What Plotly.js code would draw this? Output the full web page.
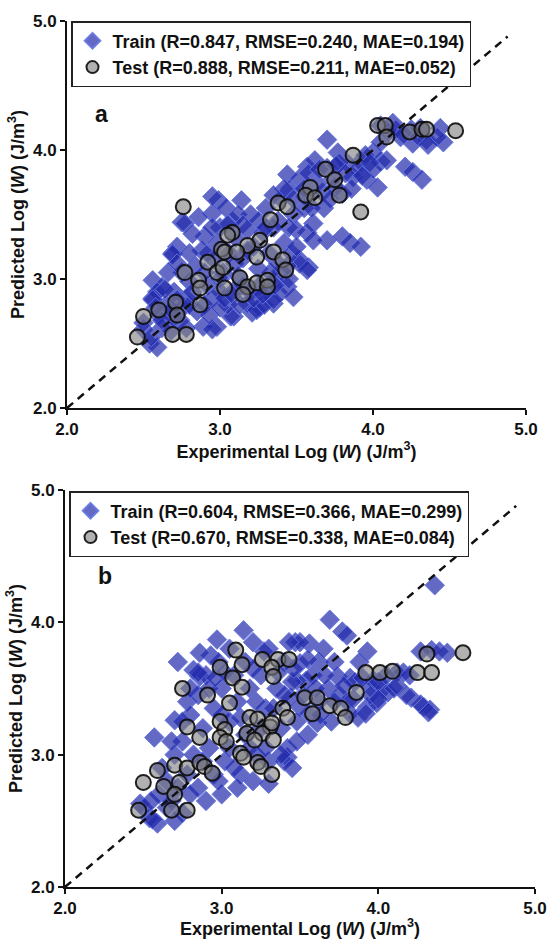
<!DOCTYPE html>
<html><head><meta charset="utf-8">
<script src="https://cdn.plot.ly/plotly-3.0.1.min.js"></script>
<style>html,body{margin:0;padding:0;background:#fff}#chart{width:549px;height:939px}</style>
</head><body><div id="chart"></div>
<script>
// ---------- data ----------
const tickVals = [2, 3, 4, 5];
const tickText = ['2.0', '3.0', '4.0', '5.0'];
const diagLine = [2, 4.88];
const panelLabels = ['a', 'b'];
const legendA = ['Train (R=0.847, RMSE=0.240, MAE=0.194)', 'Test (R=0.888, RMSE=0.211, MAE=0.052)'];
const legendB = ['Train (R=0.604, RMSE=0.366, MAE=0.299)', 'Test (R=0.670, RMSE=0.338, MAE=0.084)'];
const xTitle = 'Experimental Log (<i>W</i>) (J/m<sup>3</sup>)';
const yTitle = 'Predicted Log (<i>W</i>) (J/m<sup>3</sup>)';

// panel a, train [experimental, predicted]
const trainA = [[3.44,3.81],[2.99,3.61],[2.95,3.51],[3.14,3.61],[2.75,3.44],[2.72,3.25],[3.57,3.87],[3.56,3.64],[3.70,4.08],[4.05,4.19],[4.13,4.21],[4.18,4.10],[4.26,4.05],[4.35,4.08],[4.44,4.17],[4.46,4.06],[4.42,4.10],[4.31,4.17],[4.05,3.91],[4.00,3.98],[4.09,3.92],[4.21,3.87],[4.26,3.83],[4.32,3.77],[3.92,3.91],[3.83,3.90],[3.77,3.98],[3.87,3.79],[3.96,3.77],[4.03,3.71],[3.67,3.67],[3.75,3.71],[3.61,3.43],[3.70,3.30],[3.80,3.33],[3.85,3.28],[3.92,3.25],[3.57,3.36],[3.58,3.09],[3.52,3.15],[2.95,3.64],[2.77,3.43],[2.69,3.20],[2.56,2.99],[2.62,2.94],[2.56,2.85],[2.50,2.61],[2.54,2.50],[2.98,2.63],[3.09,2.71],[3.26,2.78],[3.35,2.81],[3.21,2.74],[3.44,2.94],[3.39,2.89],[2.69,3.19],[2.59,2.90],[2.56,2.84],[2.50,2.66],[2.59,2.47],[2.74,2.68],[2.89,2.63],[2.95,2.61],[3.07,2.71],[3.18,2.81],[3.24,2.76],[3.29,2.80],[3.35,2.84],[3.48,2.86],[3.52,3.12],[3.57,3.07],[3.61,3.30],
[2.60,2.72],[2.65,2.80],[2.70,2.90],[2.66,3.05],[2.75,3.05],[2.78,2.85],[2.80,2.98],[2.84,3.10],[2.88,3.22],[2.90,3.33],[2.92,2.95],[2.96,3.15],[2.98,3.28],[3.00,3.40],[3.02,3.05],[3.06,3.20],[3.08,3.45],[3.10,3.32],[3.12,3.02],[3.15,3.16],[3.18,3.38],[3.20,3.50],[3.22,3.25],[3.25,3.08],[3.28,3.36],[3.30,3.55],[3.32,3.20],[3.35,2.98],[3.38,3.45],[3.40,3.62],[3.42,3.28],[3.46,3.70],[3.48,3.50],[3.50,3.38],[3.52,3.78],[3.55,3.55],[3.58,3.82],[3.62,3.92],[3.64,3.74],[3.68,3.55],[3.70,3.86],[3.74,3.78],[3.78,3.90],[3.80,3.66],[3.86,3.70],[3.90,3.85],[3.95,3.96],[4.00,3.85],[4.05,4.06],[4.10,4.14],[4.15,4.16],[4.20,4.12],[4.25,4.16],[4.30,4.10],[4.36,4.04],[2.55,2.55],[2.62,2.62],[2.70,2.70],[2.76,2.78],[2.85,2.75],[2.95,2.85],[3.00,2.90],[3.05,2.80],[3.10,2.92],[3.20,2.90],[3.26,2.95],[3.30,2.90],[3.36,2.95],[3.40,3.06],[3.45,3.00],[2.82,3.35],[2.86,3.48],[3.04,3.55],[3.12,3.50],
[2.62,2.68],[2.68,2.76],[2.72,2.84],[2.80,2.80],[2.82,2.90],[2.90,2.80],[2.93,2.72],[3.00,2.78],[3.03,2.85],[3.08,2.88],[3.13,2.80],[3.15,2.95],[3.22,2.85],[3.28,2.88],[3.33,3.05],[3.38,3.12],[3.44,3.10],[3.47,3.20],[3.50,3.25],[3.45,3.40],[3.35,3.40],[3.25,3.45],[3.15,3.42],[3.05,3.42],[2.95,3.40],[2.92,3.20],[2.80,3.20],[2.72,3.12],[2.64,2.92],[2.58,2.78],[2.68,2.60],[2.78,2.62],[3.55,3.70],[3.60,3.55],[3.65,3.85],[3.72,3.62],[3.76,3.88],[3.82,3.82],[3.93,3.80],[3.98,3.90],[3.48,3.62],[3.42,3.70],[3.35,3.65],[3.30,3.40],[3.18,3.22],[3.10,3.12],[3.00,3.00],[2.90,3.05]];

// panel a, test
const testA = [[4.03,4.19],[4.08,4.19],[4.09,4.10],[4.24,4.14],[4.32,4.16],[4.35,4.16],[4.54,4.15],[3.87,3.96],[3.69,3.85],[3.75,3.77],[3.78,3.65],[3.92,3.52],[3.59,3.71],[3.56,3.65],[3.62,3.63],[3.38,3.59],[3.44,3.56],[3.33,3.46],[2.76,3.56],
[3.08,3.36],[3.05,3.34],[3.26,3.30],[3.18,3.26],[3.01,3.23],[3.03,3.21],[3.11,3.21],[3.24,3.17],[3.35,3.21],[3.41,3.15],[3.43,3.07],[2.92,3.13],[2.98,3.05],[2.77,3.05],[2.86,2.99],[2.87,2.93],[3.03,2.93],[3.13,3.01],[3.18,2.94],[3.24,2.97],[3.31,2.99],[3.31,2.94],[3.15,2.88],[2.71,2.82],[2.87,2.80],[2.60,2.76],[2.50,2.71],[2.69,2.57],[2.78,2.57],[2.46,2.55],[2.72,2.72],[3.02,3.09]];

// panel b, train
const trainB = [[4.36,4.28],[4.27,3.78],[4.34,3.79],[4.44,3.77],[4.39,3.78],[3.69,4.02],[3.77,3.93],[3.80,3.90],[3.93,3.78],[3.62,3.70],[3.56,3.84],[3.47,3.85],[4.21,3.43],[4.29,3.36],[4.33,3.34],[3.74,3.59],[3.82,3.58],[3.97,3.56],[4.06,3.47],[3.93,3.36],[3.87,3.28],[3.82,3.31],[4.16,3.62],[4.12,3.62],[3.95,3.51],[4.03,3.49],[3.99,3.39],[3.92,3.31],[4.27,3.38],[4.32,3.32],[3.56,3.31],[3.61,3.24],[3.50,3.36],[3.44,3.43],[3.54,3.56],[3.14,3.94],[2.72,3.70],[2.57,3.13],[2.70,3.26],[2.78,3.40],[2.86,3.59],[2.97,3.87],[2.93,3.75],[2.82,3.64],[2.86,3.77],[3.48,3.56],[3.50,3.69],[2.48,2.63],[2.59,2.48],[2.54,2.52],[2.75,2.56],[3.42,2.98],[2.50,2.60],[2.56,2.51],
[2.60,2.70],[2.65,2.80],[2.70,3.00],[2.72,2.75],[2.75,3.10],[2.78,2.85],[2.80,3.30],[2.82,3.00],[2.85,3.45],[2.85,2.75],[2.88,3.20],[2.90,3.60],[2.92,3.05],[2.95,3.35],[2.95,2.85],[2.98,3.70],[3.00,3.50],[3.02,2.95],[3.05,3.25],[3.05,3.80],[3.08,3.60],[3.10,3.40],[3.12,2.85],[3.15,3.70],[3.15,3.15],[3.18,3.50],[3.20,3.85],[3.22,3.00],[3.25,3.60],[3.28,3.35],[3.30,3.80],[3.30,2.95],[3.35,3.50],[3.38,3.20],[3.40,3.70],[3.42,3.05],[3.45,3.55],[3.48,3.25],[3.50,3.85],[3.52,3.45],[3.55,3.15],[3.58,3.60],[3.62,3.40],[3.65,3.80],[3.68,3.50],[3.70,3.25],[3.72,3.70],[3.75,3.45],[3.80,3.40],[3.85,3.55],[3.88,3.70],[3.95,3.45],[4.00,3.55],[4.05,3.60],[4.10,3.50],[4.20,3.60],[2.55,2.65],[2.65,2.60],[2.70,2.50],[3.10,2.75],[3.20,2.80],[3.30,2.78],[3.40,2.95],[3.00,2.70],[2.90,2.65],[3.45,2.90],
[2.62,2.90],[2.68,3.10],[2.75,3.25],[2.80,3.50],[2.85,3.62],[2.92,3.50],[2.96,3.58],[3.02,3.62],[3.00,3.30],[3.05,3.05],[3.08,2.90],[3.12,3.28],[3.18,3.05],[3.20,3.65],[3.22,3.40],[3.25,3.20],[3.27,3.78],[3.33,3.35],[3.36,3.62],[3.40,3.45],[3.43,3.85],[3.46,3.65],[3.55,3.72],[3.60,3.50],[3.63,3.30],[3.66,3.60],[3.72,3.40],[3.78,3.52],[3.84,3.42],[3.90,3.58],[4.00,3.42],[4.12,3.52],[4.18,3.45],[2.88,2.95],[2.98,2.80],[2.80,2.70],[2.68,2.65],[3.38,3.00],[3.28,3.05],[3.48,3.10]];

// panel b, test
const testB = [[4.31,3.76],[4.54,3.77],[3.92,3.62],[4.01,3.62],[4.09,3.63],[4.25,3.62],[4.34,3.62],[3.86,3.47],[3.53,3.43],[3.61,3.43],[3.69,3.37],[3.76,3.35],[3.58,3.31],[3.79,3.28],
[3.09,3.79],[2.99,3.66],[3.07,3.58],[3.13,3.68],[3.13,3.51],[3.26,3.72],[3.36,3.72],[3.43,3.72],[3.32,3.66],[3.33,3.59],
[2.75,3.50],[2.91,3.45],[3.05,3.39],
[3.18,3.28],[3.23,3.27],[3.31,3.21],[3.26,3.16],[3.16,3.16],[3.21,3.11],[3.33,3.11],[3.39,3.35],[3.42,3.28],[3.32,3.24],[3.12,3.01],[3.14,2.98],[3.23,2.94],[3.25,2.91],[3.32,2.85],[2.99,3.25],[3.02,3.19],[2.99,3.13],[3.03,3.10],[2.78,3.21],[2.86,3.13],
[2.59,2.88],[2.50,2.79],[2.70,2.92],[2.78,2.90],[2.86,2.94],[2.89,2.91],[2.94,2.86],[2.63,2.76],[2.73,2.79],[2.70,2.70],[2.47,2.58],[2.68,2.58],[2.78,2.58]];

// ---------- styling ----------
const FONT = "'Liberation Sans', Arial, Helvetica, sans-serif";
const INK = '#111';
const col = (pts, i) => pts.map(p => p[i]);
const trainMarker = {symbol: 'diamond', size: 15, color: 'rgba(34,42,170,0.7)', line: {color: 'rgba(100,118,225,0.9)', width: 1}};
const testMarker = {symbol: 'circle', size: 15, color: 'rgba(125,125,125,0.6)', line: {color: 'rgba(12,12,12,0.9)', width: 2}};
const dashLine = {color: INK, width: 2.5, dash: '8px,6px'};

function scatter(pts, name, marker, xa, ya, leg) {
  return {x: col(pts, 0), y: col(pts, 1), type: 'scatter', mode: 'markers', name: name, marker: marker,
          xaxis: xa, yaxis: ya, legend: leg, hoverinfo: 'skip', cliponaxis: false};
}
const traces = [
  scatter(trainA, legendA[0], trainMarker, 'x', 'y', 'legend'),
  scatter(testA, legendA[1], testMarker, 'x', 'y', 'legend'),
  {x: diagLine, y: diagLine, type: 'scatter', mode: 'lines', line: dashLine, xaxis: 'x', yaxis: 'y', showlegend: false, hoverinfo: 'skip'},
  scatter(trainB, legendB[0], trainMarker, 'x2', 'y2', 'legend2'),
  scatter(testB, legendB[1], testMarker, 'x2', 'y2', 'legend2'),
  {x: diagLine, y: diagLine, type: 'scatter', mode: 'lines', line: dashLine, xaxis: 'x2', yaxis: 'y2', showlegend: false, hoverinfo: 'skip'}
];

const W = 549, H = 939;
const px = v => v / W, py = v => 1 - v / H;
const tickFont = {family: FONT, size: 17, weight: 'bold', color: INK};
const titleFont = {family: FONT, size: 18, weight: 'bold', color: INK};

function axis(domain, anchor, title, standoff) {
  return {domain: domain, anchor: anchor, range: [2, 5], tickvals: tickVals, ticktext: tickText,
    ticks: 'outside', ticklen: 5, tickwidth: 2, tickcolor: INK, showline: true, linecolor: INK, linewidth: 2,
    showgrid: false, zeroline: false, tickfont: tickFont, fixedrange: true,
    title: {text: title, font: titleFont, standoff: standoff}};
}
const legendStyle = (x, y) => ({x: x, y: y, xanchor: 'left', yanchor: 'top', bgcolor: 'rgba(255,255,255,1)',
  bordercolor: '#222', borderwidth: 1.5, font: {family: FONT, size: 18, weight: 'bold', color: INK},
  itemsizing: 'constant', tracegroupgap: 0, traceorder: 'normal'});

const layout = {
  width: W, height: H, margin: {l: 0, r: 0, t: 0, b: 0}, paper_bgcolor: '#fff', plot_bgcolor: 'rgba(0,0,0,0)',
  font: {family: FONT, color: INK},
  xaxis: axis([px(67), px(526)], 'y', xTitle, 3),
  yaxis: axis([py(408), py(21)], 'x', yTitle, 4),
  xaxis2: axis([px(65), px(535)], 'y2', xTitle, 3),
  yaxis2: axis([py(887), py(490)], 'x2', yTitle, 4),
  legend: legendStyle(px(71), py(21)),
  legend2: legendStyle(px(69), py(491)),
  annotations: [
    {text: panelLabels[0], xref: 'paper', yref: 'paper', x: px(93), y: py(99), showarrow: false, font: {family: FONT, size: 23, weight: 'bold', color: INK}},
    {text: panelLabels[1], xref: 'paper', yref: 'paper', x: px(96), y: py(576), showarrow: false, font: {family: FONT, size: 23, weight: 'bold', color: INK}}
  ],
  showlegend: true
};
Plotly.newPlot('chart', traces, layout, {staticPlot: true, displayModeBar: false});
</script>
</body></html>
